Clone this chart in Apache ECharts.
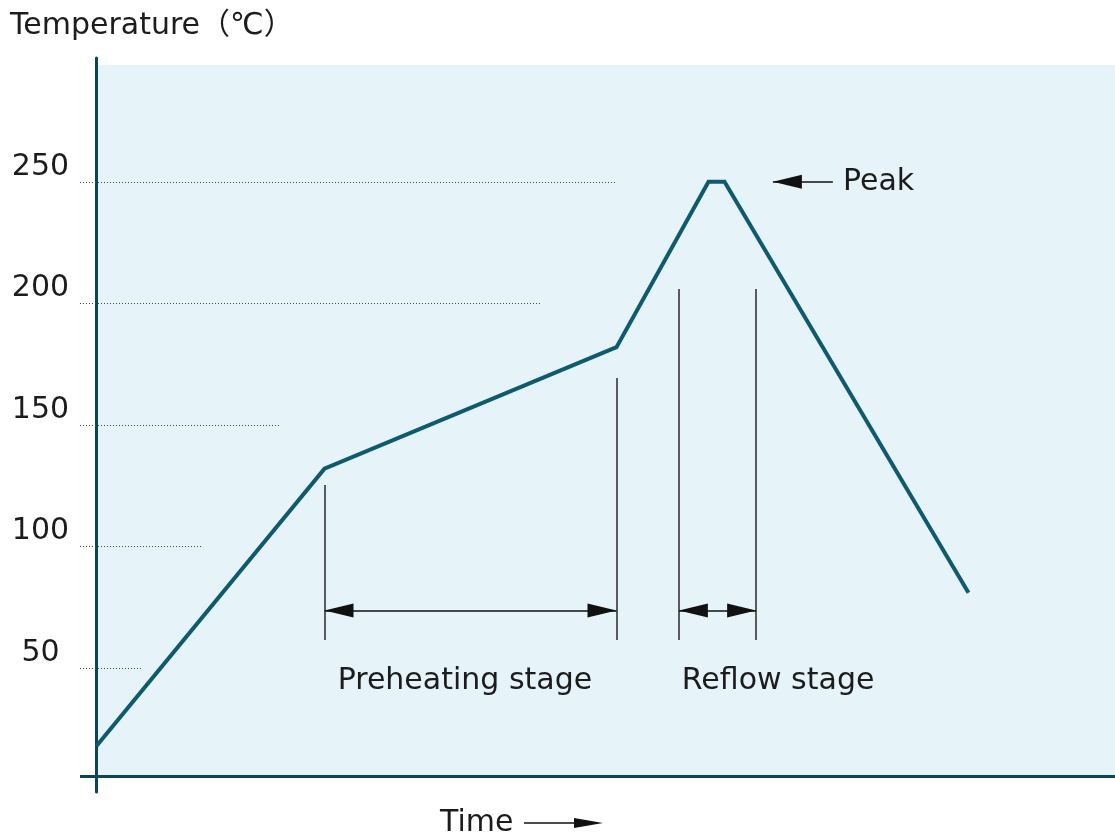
<!DOCTYPE html>
<html>
<head>
<meta charset="utf-8">
<script src="https://cdn.jsdelivr.net/npm/echarts@6/dist/echarts.min.js"></script>
<style>
  html, body { margin: 0; padding: 0; background: #ffffff; }
  #chart { width: 1115px; height: 837px; }
</style>
</head>
<body>
<div id="chart"></div>
<script>
// Reflow soldering temperature profile (time in arbitrary units, temperature in ℃)
const timeSteps = [0, 57, 130, 153, 157, 218];
const temperatures = [18, 132, 182, 250, 250, 81];

// Temperature tick labels and the dotted guide lines drawn at them
const tempTicks = [50, 100, 150, 200, 250];
const guideEnds = [11.4, 26.4, 46.1, 110.9, 130];

// Stage boundary markers: [time, top temperature]
const boundaryTimes = [57, 130, 145.6, 164.9];
const boundaryTops = [125.3, 169.3, 205.9, 205.9];
const boundaryBottom = 61.6;

// Stage spans with their labels
const stageNames = ['Preheating stage', 'Reflow stage'];
const stageFrom = [57, 145.6];
const stageTo = [130, 164.9];
const stageArrowTemp = 73.7;
const stageLabelTimes = [92.1, 170.4];
const stageLabelTemp = 44.5;

// Peak pointer
const peakName = 'Peak';
const peakArrowFrom = 184.1;
const peakArrowTo = 169.1;
const peakTemp = 250;
const peakLabelTime = 186.6;

// Axis extents
const xMin = -4.125, xMax = 254.625;
const yMin = -0.9, yMax = 300.9;
const baseTemp = 5.67;      // level of the time axis
const plotTopTemp = 298;    // top of the shaded plot area
const plotStartTime = 0.375;

const curveColor = '#0f5a6d';
const axisColor = '#0b4656';
const inkColor = '#1c1c1c';
const fontFamily = '"DejaVu Sans", "Noto Sans CJK JP", sans-serif';

const chart = echarts.init(document.getElementById('chart'), null, { renderer: 'canvas' });

const guideLines = tempTicks.map((t, i) => [
  { coord: [xMin, t] },
  { coord: [guideEnds[i], t] }
]);

const boundaryLines = boundaryTimes.map((t, i) => [
  { coord: [t, boundaryTops[i]] },
  { coord: [t, boundaryBottom] }
]);

const stageArrows = stageNames.map((n, i) => [
  { coord: [stageFrom[i], stageArrowTemp] },
  { coord: [stageTo[i], stageArrowTemp] }
]);

const arrowSize = [14, 29];
const arrowOffset = [0, 14.5];

const option = {
  animation: false,
  backgroundColor: '#ffffff',
  title: {
    text: 'Temperature（℃）',
    left: 10,
    top: 11,
    padding: 0,
    textStyle: { fontFamily, fontSize: 30, fontWeight: 'normal', color: inkColor }
  },
  grid: { left: 80, right: 0, top: 58, bottom: 45, containLabel: false, outerBoundsMode: 'none' },
  xAxis: {
    type: 'value',
    min: xMin,
    max: xMax,
    axisLine: { show: false },
    axisTick: { show: false },
    axisLabel: { show: false },
    splitLine: { show: false }
  },
  yAxis: {
    type: 'value',
    min: yMin,
    max: yMax,
    axisLine: { show: true, onZero: true, lineStyle: { color: axisColor, width: 3 } },
    axisTick: { show: false },
    splitLine: { show: false },
    axisLabel: {
      customValues: tempTicks,
      fontFamily,
      fontSize: 30,
      color: inkColor,
      align: 'center',
      verticalAlign: 'bottom',
      margin: 39.5
    }
  },
  series: [
    {
      name: 'Profile',
      type: 'line',
      data: timeSteps.map((t, i) => [t, temperatures[i]]),
      showSymbol: false,
      symbol: 'none',
      silent: true,
      z: 3,
      lineStyle: { color: curveColor, width: 4, join: 'miter' },
      markArea: {
        silent: true,
        itemStyle: { color: '#e6f4f9' },
        data: [[
          { coord: [plotStartTime, plotTopTemp] },
          { coord: [xMax, baseTemp] }
        ]]
      },
      markLine: {
        silent: true,
        symbol: ['none', 'none'],
        label: { show: false },
        data: [
          ...guideLines.map(d => [
            Object.assign({ lineStyle: { color: '#4a4a4a', width: 1, type: [1, 2] } }, d[0]),
            d[1]
          ]),
          ...boundaryLines.map(d => [
            Object.assign({ lineStyle: { color: '#2a2a2a', width: 1.5, type: 'solid' } }, d[0]),
            d[1]
          ]),
          {
            yAxis: baseTemp,
            lineStyle: { color: axisColor, width: 3, type: 'solid' }
          }
        ]
      }
    },
    {
      name: 'Stages',
      type: 'line',
      data: [],
      silent: true,
      markLine: {
        silent: true,
        symbol: ['triangle', 'triangle'],
        symbolSize: arrowSize,
        symbolOffset: [arrowOffset, arrowOffset],
        label: { show: false },
        lineStyle: { color: '#111111', width: 1.5, type: 'solid' },
        itemStyle: { color: '#111111' },
        data: stageArrows
      }
    },
    {
      name: 'Peak',
      type: 'line',
      data: [],
      silent: true,
      markLine: {
        silent: true,
        symbol: ['none', 'triangle'],
        symbolSize: arrowSize,
        symbolOffset: [arrowOffset, arrowOffset],
        label: { show: false },
        lineStyle: { color: '#111111', width: 1.5, type: 'solid' },
        itemStyle: { color: '#111111' },
        data: [[
          { coord: [peakArrowFrom, peakTemp] },
          { coord: [peakArrowTo, peakTemp] }
        ]]
      }
    },
    {
      name: 'Labels',
      type: 'scatter',
      silent: true,
      symbolSize: 0,
      itemStyle: { color: 'rgba(0,0,0,0)', opacity: 1 },
      label: {
        show: true,
        position: 'inside',
        fontFamily,
        fontSize: 30,
        color: inkColor,
        textBorderWidth: 0,
        formatter: p => p.data.name
      },
      data: [
        ...stageNames.map((n, i) => ({ name: n, value: [stageLabelTimes[i], stageLabelTemp] })),
        {
          name: peakName,
          value: [peakLabelTime, peakTemp],
          label: { position: 'right', distance: 0, align: 'left' }
        }
      ]
    }
  ],
  graphic: [
    {
      type: 'group',
      silent: true,
      children: [
        {
          type: 'text',
          x: 440,
          y: 823.5,
          style: {
            text: 'Time',
            font: '30px ' + fontFamily,
            fill: inkColor,
            verticalAlign: 'middle',
            align: 'left'
          }
        },
        {
          type: 'line',
          shape: { x1: 524, y1: 823, x2: 576, y2: 823 },
          style: { stroke: '#111111', lineWidth: 1.5 }
        },
        {
          type: 'polygon',
          shape: { points: [[603, 823], [574, 818], [574, 828]] },
          style: { fill: '#111111' }
        }
      ]
    }
  ]
};

chart.setOption(option);
</script>
</body>
</html>
